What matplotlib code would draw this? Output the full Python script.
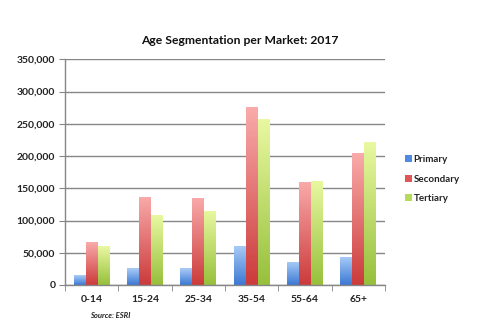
import numpy as np
import matplotlib
matplotlib.use("Agg")
import matplotlib.pyplot as plt
from matplotlib.colors import LinearSegmentedColormap
from matplotlib.patches import Patch
from matplotlib.ticker import FuncFormatter, MultipleLocator, FixedLocator

categories = ["0-14", "15-24", "25-34", "35-54", "55-64", "65+"]
primary = [15000, 26000, 26000, 61000, 36000, 44000]
secondary = [66000, 137000, 135000, 276000, 160000, 204000]
tertiary = [60000, 108000, 115000, 257000, 162000, 221000]
series_names = ["Primary", "Secondary", "Tertiary"]
title = "Age Segmentation per Market: 2017"
source = "Source: ESRI"

plt.rcParams['font.family'] = ['Lato', 'DejaVu Sans']

fig = plt.figure(figsize=(4.84, 3.29), dpi=100)
ax = fig.add_axes([65/484, 1-285/329, 320/484, (285-59.3)/329])

grads = [
    ("#a9ccf7", "#3c79d3"),
    ("#f9aaaa", "#cc3b3b"),
    ("#e8f8a0", "#97c03c"),
]
solid = ["#4f8ae0", "#e05555", "#b4dc5a"]

x = np.arange(len(categories))
w = 0.225
data = [primary, secondary, tertiary]
for i, (vals, (ctop, cbot)) in enumerate(zip(data, grads)):
    cmap = LinearSegmentedColormap.from_list("g%d" % i, [cbot, ctop])
    grad = np.linspace(0, 1, 64).reshape(-1, 1)
    for xi, v in zip(x, vals):
        left = xi + (i - 1) * w - w / 2
        bar = ax.bar(left, v, width=w, align='edge', color='none', edgecolor='none', zorder=2)[0]
        im = ax.imshow(grad, cmap=cmap, origin='lower', aspect='auto',
                       extent=[left, left + w, 0, v], zorder=2, interpolation='bilinear')
        im.set_clip_path(bar)

ax.set_xlim(-0.5, len(categories) - 0.5)
ax.set_ylim(0, 350000)
ax.yaxis.set_major_locator(MultipleLocator(50000))
ax.yaxis.set_major_formatter(FuncFormatter(lambda v, p: f"{int(v):,}"))
ax.grid(axis='y', color='#868686', linewidth=1.0, zorder=0)
ax.set_axisbelow(True)

ax.set_xticks(x)
ax.set_xticklabels(categories)
ax.xaxis.set_minor_locator(FixedLocator(np.arange(-0.5, len(categories), 1.0)))
ax.tick_params(axis='x', which='major', length=0, pad=7, labelsize=7.5)
ax.tick_params(axis='x', which='minor', length=4, color='#868686', direction='out')
ax.tick_params(axis='y', length=4, color='#868686', labelsize=7.5, pad=3)
for lab in ax.get_xticklabels() + ax.get_yticklabels():
    lab.set_fontweight('bold')
    lab.set_color('#222222')

for s in ['top', 'right']:
    ax.spines[s].set_visible(False)
for s in ['left', 'bottom']:
    ax.spines[s].set_color('#868686')
    ax.spines[s].set_linewidth(1.0)

fig.text(240/484, 1-41/329, title, ha='center', va='center', fontsize=8.7, fontweight='bold', color='#111111')
fig.text(90/484, 1-316/329, source, ha='left', va='center', fontsize=5.5, fontweight='bold', style='italic', color='#222222')

handles = [Patch(facecolor=c, edgecolor='none') for c in solid]
leg = fig.legend(handles, series_names, loc='center left', bbox_to_anchor=(396/484, 1-179/329),
                 frameon=False, fontsize=7, handlelength=0.7, handleheight=0.7,
                 handletextpad=0.2, labelspacing=1.1)
for t in leg.get_texts():
    t.set_fontweight('bold')
    t.set_color('#222222')

fig.savefig("out.png", dpi=100)
